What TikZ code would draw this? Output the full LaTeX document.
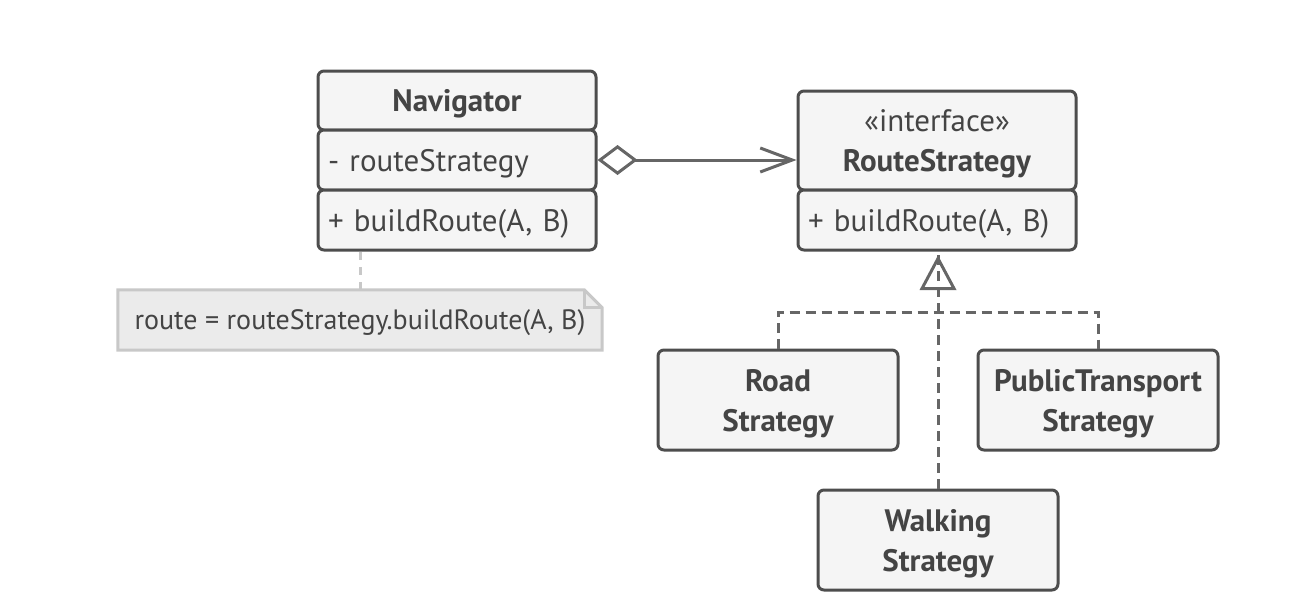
\documentclass[tikz,border=0pt]{standalone}
\usepackage{fontspec}
\setmainfont{PT Sans}
\usepackage{xcolor}
\usetikzlibrary{arrows.meta}
\definecolor{umlline}{RGB}{77,77,77}
\definecolor{umlfill}{RGB}{245,245,245}
\definecolor{umltext}{RGB}{68,68,68}
\definecolor{linkgray}{RGB}{102,102,102}
\definecolor{notefill}{RGB}{235,235,235}
\definecolor{noteline}{RGB}{200,200,200}

\tikzset{
  part/.style={draw=umlline, fill=umlfill, line width=3pt, rounded corners=6pt,
    minimum width=278pt, inner sep=0pt, text=umltext, text depth=0pt,
    font=\fontsize{31}{40}\selectfont},
  member/.style={part, text width=258pt, align=left, inner xsep=10pt},
  classbox/.style={part, minimum width=240pt, minimum height=100pt, align=center,
    font=\fontsize{31}{40}\selectfont\bfseries},
  link/.style={draw=linkgray, line width=3pt},
  dashlink/.style={link, dash pattern=on 10pt off 6pt},
  notelink/.style={draw=noteline, line width=3pt, dash pattern=on 8pt off 7pt}
}

\begin{document}
\begin{tikzpicture}[x=1pt, y=-1pt]
  \useasboundingbox (0,0) rectangle (1316,600);

  % context
  \node[part, minimum height=59pt, font=\fontsize{31}{40}\selectfont\bfseries] (navhead) at (457,100.5) {Navigator};
  \node[member, minimum height=60pt] (navattr) at (457,160) {- routeStrategy};
  \node[member, minimum height=60pt] (navmeth) at (457,220) {+ buildRoute(A, B)};

  % strategy interface
  \node[part, minimum height=99pt, align=center] (rshead) at (937,140.5) {«interface»\\\textbf{RouteStrategy}};
  \node[member, minimum height=60pt] (rsmeth) at (937,220) {+ buildRoute(A, B)};

  % concrete strategies
  \node[classbox] (road) at (778,400) {Road\\Strategy};
  \node[classbox] (transit) at (1098,400) {PublicTransport\\Strategy};
  \node[classbox] (walk) at (938,540) {Walking\\Strategy};

  % note
  \node[minimum width=484pt, minimum height=60pt, inner sep=0pt] (note) at (360,320) {};
  \filldraw[fill=notefill, draw=noteline, line width=3pt, line join=miter]
    (note.north west) -- ([xshift=-18pt]note.north east) -- ([yshift=-18pt]note.north east)
    -- (note.south east) -- (note.south west) -- cycle;
  \draw[draw=noteline, line width=3pt] ([xshift=-18pt]note.north east) |- ([yshift=-18pt]note.north east);
  \node[text=umltext, text depth=0pt, font=\fontsize{28}{34}\selectfont] at (note) {route = routeStrategy.buildRoute(A, B)};
  \draw[notelink] (note.north) -- (note.north |- navmeth.south);

  % aggregation
  \draw[link, {Diamond[open, length=40pt, width=30pt]}-{Straight Barb[length=32pt, width=24pt]}]
    (navattr.east) -- (navattr.east -| rshead.west);

  % realization
  \coordinate (fork) at (938,312);
  \draw[dashlink] (walk.north) -- (walk.north |- rsmeth.south);
  \draw[dashlink] (road.north) |- (fork) -| (transit.north);
  \draw[link, line join=miter] ([yshift=-7pt]walk.north |- rsmeth.south)
    -- ++(16,30) -- ++(-32,0) -- cycle;
\end{tikzpicture}
\end{document}
